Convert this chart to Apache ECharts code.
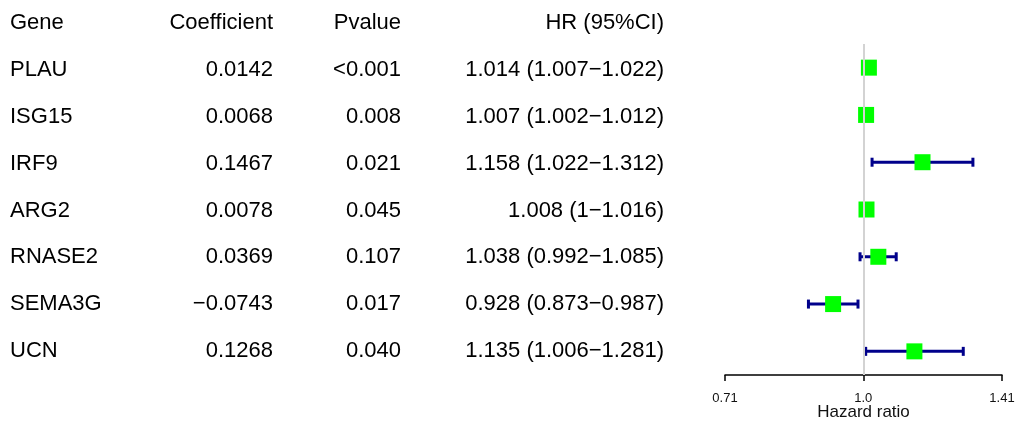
<!DOCTYPE html>
<html>
<head>
<meta charset="utf-8">
<script src="https://cdn.jsdelivr.net/npm/echarts@6/dist/echarts.min.js"></script>
<style>
  html, body { margin: 0; padding: 0; background: #fff; }
  #main { width: 1020px; height: 427px; }
</style>
</head>
<body>
<div id="main"></div>
<script>
// table + forest data
const genes = ['PLAU', 'ISG15', 'IRF9', 'ARG2', 'RNASE2', 'SEMA3G', 'UCN'];
const coefs = [0.0142, 0.0068, 0.1467, 0.0078, 0.0369, -0.0743, 0.1268];
const pvalues = ['<0.001', '0.008', '0.021', '0.045', '0.107', '0.017', '0.040'];
const hr = [1.014, 1.007, 1.158, 1.008, 1.038, 0.928, 1.135];
const hrLow = [1.007, 1.002, 1.022, 1, 0.992, 0.873, 1.006];
const hrHigh = [1.022, 1.012, 1.312, 1.016, 1.085, 0.987, 1.281];
const headers = ['Gene', 'Coefficient', 'Pvalue', 'HR (95%CI)'];
const hrTicks = [0.71, 1, 1.41];
const hrTickLabels = ['0.71', '1.0', '1.41'];

const FONT = 'Liberation Sans';
const minus = s => String(s).replace('-', '\u2212');

const rows = ['head'].concat(genes);
const hrText = hr.map((v, i) => v + ' (' + hrLow[i] + '\u2212' + hrHigh[i] + ')');
const columns = [
  { x: 10, side: 'right', texts: [headers[0]].concat(genes) },
  { x: 273, side: 'left', texts: [headers[1]].concat(coefs.map(minus)) },
  { x: 401, side: 'left', texts: [headers[2]].concat(pvalues) },
  { x: 664, side: 'left', texts: [headers[3]].concat(hrText) }
];

const chart = echarts.init(document.getElementById('main'));

const tableSeries = columns.map(col => ({
  type: 'scatter',
  xAxisIndex: 1,
  yAxisIndex: 1,
  symbolSize: 0,
  silent: true,
  itemStyle: { opacity: 1 },
  data: col.texts.map((t, i) => ({ value: [col.x, rows[i]], name: t })),
  label: {
    show: true,
    position: col.side,
    distance: 0,
    formatter: p => p.name,
    fontFamily: FONT,
    fontSize: 22,
    color: '#000'
  }
}));

const option = {
  backgroundColor: '#fff',
  animation: false,
  grid: [
    { left: 725, width: 277, top: 44, height: 331 },
    { left: 0, width: 700, top: -3.3, height: 377.6 }
  ],
  xAxis: [
    {
      type: 'log',
      gridIndex: 0,
      min: 0.71,
      max: 1.41,
      axisLine: { show: true, lineStyle: { color: '#000', width: 1.5 } },
      axisTick: { show: true, length: 6, lineStyle: { color: '#000', width: 1.5 }, customValues: hrTicks },
      axisLabel: {
        customValues: hrTicks,
        formatter: v => hrTickLabels[hrTicks.findIndex(t => Math.abs(t - v) < 1e-6)] || '',
        fontFamily: FONT, fontSize: 13, color: '#111', margin: 17
      },
      splitLine: { show: false },
      name: 'Hazard ratio',
      nameLocation: 'middle',
      nameGap: 29,
      nameMoveOverlap: false,
      nameTextStyle: { fontFamily: FONT, fontSize: 17, color: '#111', verticalAlign: 'top' }
    },
    { type: 'value', gridIndex: 1, min: 0, max: 700, show: false }
  ],
  yAxis: [
    { type: 'category', gridIndex: 0, data: genes, inverse: true, show: false },
    { type: 'category', gridIndex: 1, data: rows, inverse: true, show: false }
  ],
  series: [
    {
      type: 'custom',
      xAxisIndex: 0,
      yAxisIndex: 0,
      silent: true,
      data: genes.map((g, i) => [hrLow[i], hrHigh[i], i]),
      renderItem: (params, api) => {
        const a = api.coord([api.value(0), api.value(2)]);
        const b = api.coord([api.value(1), api.value(2)]);
        const style = { stroke: '#00008b', lineWidth: 3 };
        return {
          type: 'group',
          children: [
            { type: 'line', shape: { x1: a[0], y1: a[1], x2: b[0], y2: b[1] }, style },
            { type: 'line', shape: { x1: a[0], y1: a[1] - 4.5, x2: a[0], y2: a[1] + 4.5 }, style },
            { type: 'line', shape: { x1: b[0], y1: b[1] - 4.5, x2: b[0], y2: b[1] + 4.5 }, style }
          ]
        };
      },
      markLine: {
        silent: true,
        symbol: 'none',
        label: { show: false },
        lineStyle: { color: '#d3d3d3', width: 2, type: 'solid' },
        data: [{ xAxis: 1 }]
      },
      z: 2
    },
    {
      type: 'scatter',
      xAxisIndex: 0,
      yAxisIndex: 0,
      symbol: 'rect',
      symbolSize: 16,
      silent: true,
      itemStyle: { color: '#00ff00', opacity: 1 },
      data: genes.map((g, i) => [hr[i], g]),
      z: 3
    }
  ].concat(tableSeries)
};

chart.setOption(option);
</script>
</body>
</html>
